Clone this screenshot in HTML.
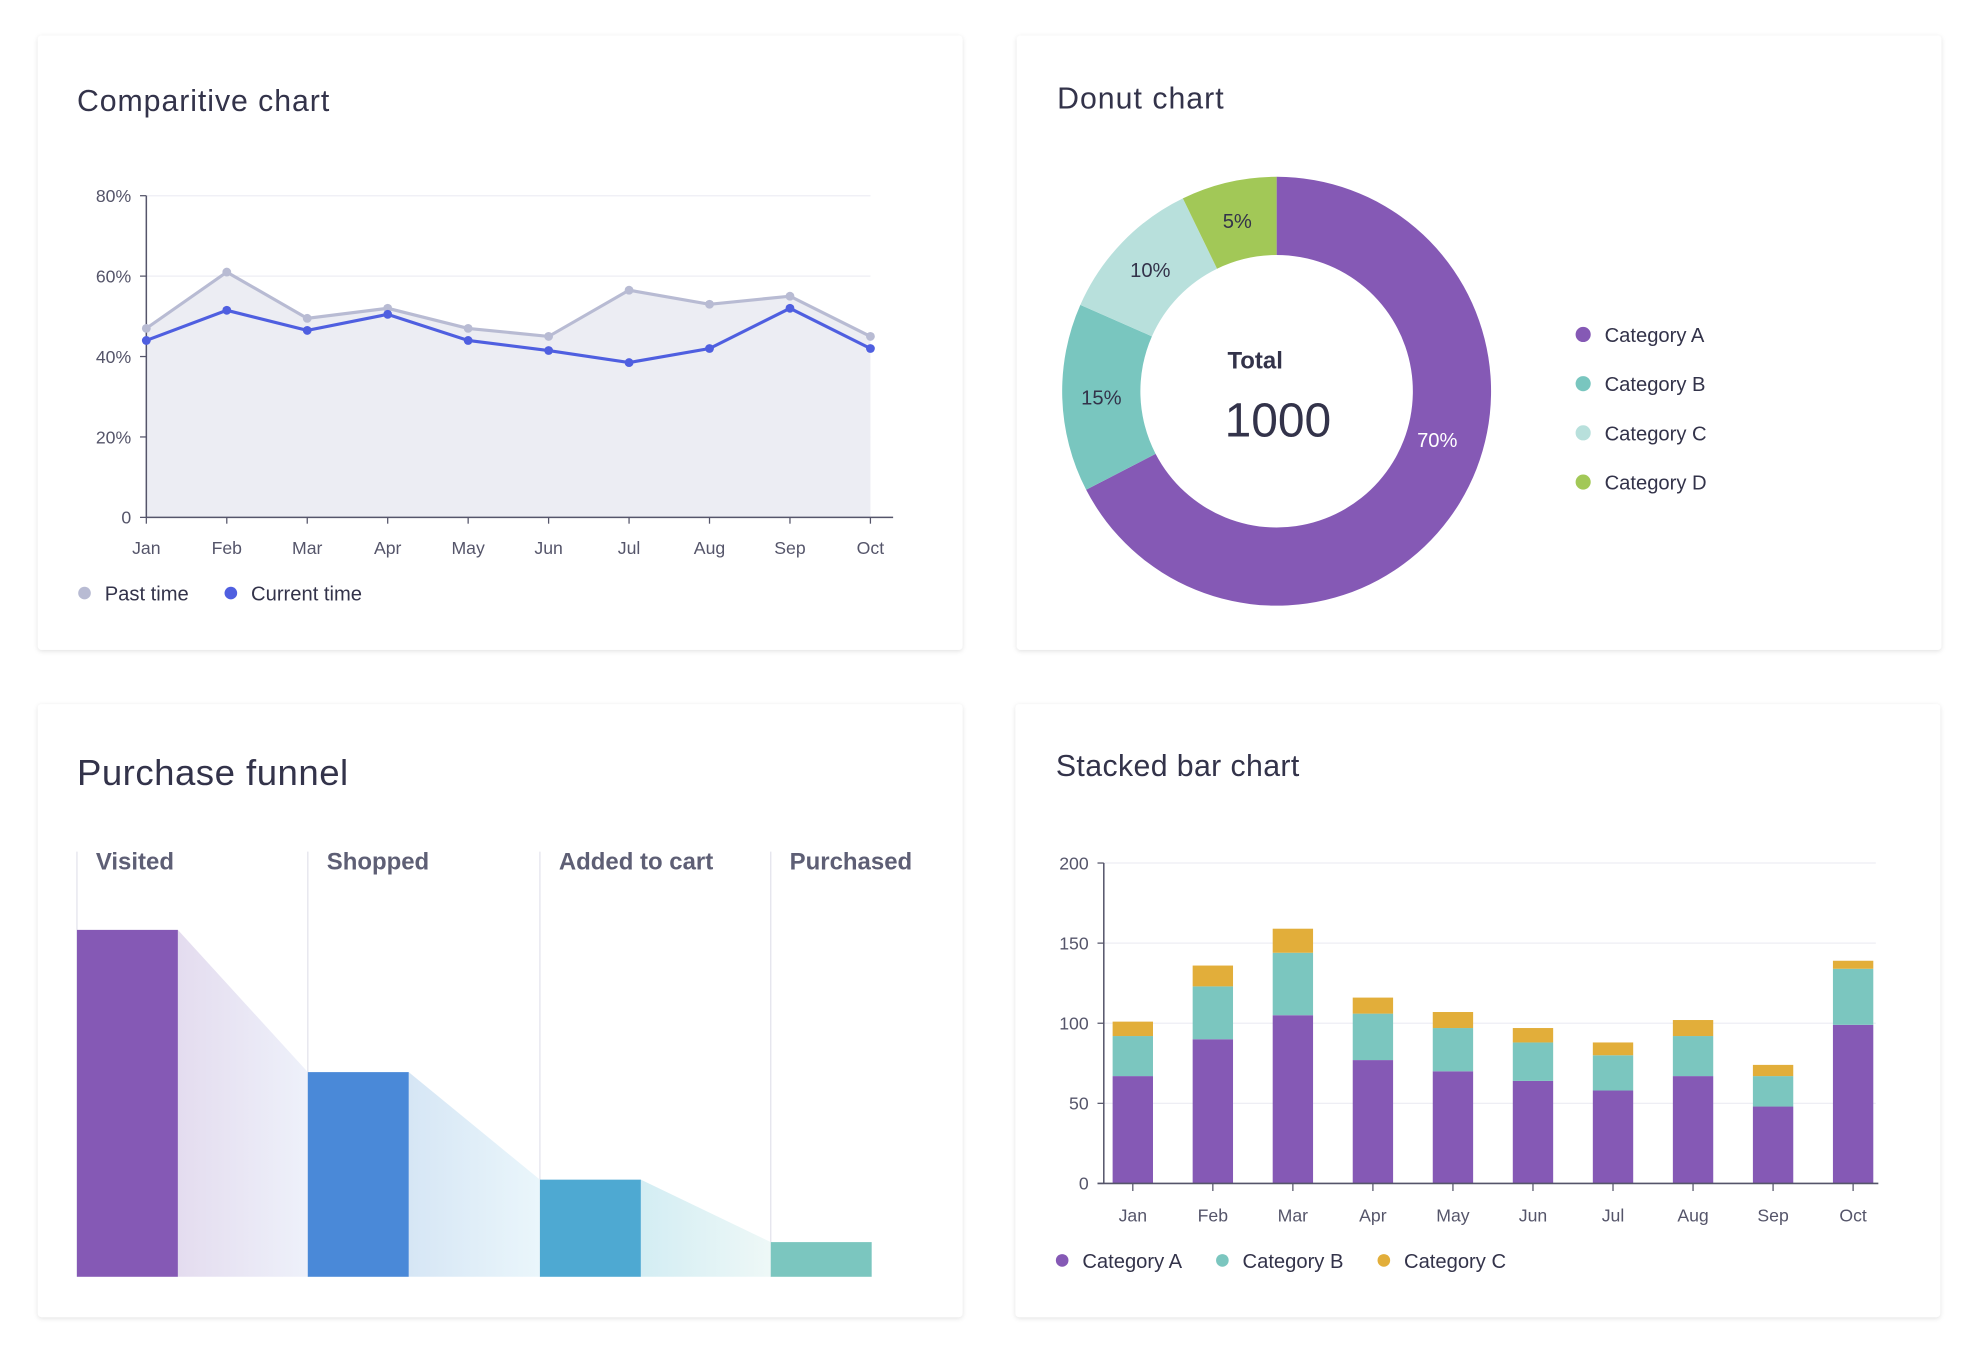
<!DOCTYPE html>
<html><head><meta charset="utf-8"><style>
html,body{margin:0;padding:0;background:#fff;}
svg{display:block;font-family:"Liberation Sans",sans-serif;}
</style></head><body>
<svg id="s" width="1978" height="1364" viewBox="0 0 1568 1081" xmlns="http://www.w3.org/2000/svg">
<defs>
<filter id="sh" x="-5%" y="-5%" width="110%" height="110%"><feDropShadow dx="0" dy="1" stdDeviation="2" flood-color="#000" flood-opacity="0.12"/></filter>
<linearGradient id="g0" x1="0" x2="1"><stop offset="0" stop-color="#e4dcef"/><stop offset="1" stop-color="#eef1fa"/></linearGradient>
<linearGradient id="g1" x1="0" x2="1"><stop offset="0" stop-color="#d6e6f5"/><stop offset="1" stop-color="#eaf6fb"/></linearGradient>
<linearGradient id="g2" x1="0" x2="1"><stop offset="0" stop-color="#d3edf3"/><stop offset="1" stop-color="#eef8f7"/></linearGradient>
</defs>
<rect x="30" y="28" width="733" height="487" rx="3" fill="#fff" filter="url(#sh)"/>
<rect x="806" y="28" width="733" height="487" rx="3" fill="#fff" filter="url(#sh)"/>
<rect x="30" y="558" width="733" height="486" rx="3" fill="#fff" filter="url(#sh)"/>
<rect x="805" y="558" width="733" height="486" rx="3" fill="#fff" filter="url(#sh)"/>
<text x="61" y="88" font-size="24" fill="#33334a" textLength="200">Comparitive chart</text>
<text x="838" y="86" font-size="24" fill="#33334a" textLength="132">Donut chart</text>
<text x="61" y="622" font-size="29" fill="#33334a" textLength="215">Purchase funnel</text>
<text x="837" y="615" font-size="24" fill="#33334a" textLength="193">Stacked bar chart</text>
<g id="line"></g><g id="donut"></g><g id="funnel"></g><g id="stack"></g>
</svg>
<script>
const NS="http://www.w3.org/2000/svg";
function mk(parent,tag,attrs,txt){const e=document.createElementNS(NS,tag);for(const k in attrs)e.setAttribute(k,attrs[k]);if(txt!==undefined)e.textContent=txt;parent.appendChild(e);return e;}

// ---- Line chart data ----
const lineMonths=["Jan","Feb","Mar","Apr","May","Jun","Jul","Aug","Sep","Oct"];
const pastValues=[47,61,49.5,52,47,45,56.5,53,55,45];
const currentValues=[44,51.5,46.5,50.5,44,41.5,38.5,42,52,42];
const lineTicks=[0,20,40,60,80];
const lineTickLabels=["0","20%","40%","60%","80%"];

// ---- Donut data ----
const donutCats=["Category A","Category B","Category C","Category D"];
const donutValues=[67.4,14.2,11.2,7.2];
const donutLabels=["70%","15%","10%","5%"];
const donutColors=["#8559b5","#79c6bf","#b8e0dc","#a2c857"];

// ---- Funnel data ----
const funnelStages=["Visited","Shopped","Added to cart","Purchased"];
const funnelValues=[100,59,28,10];
const funnelColors=["#8559b5","#4a89d8","#4ea9d2","#7bc6bf"];

// ---- Stacked data ----
const stackMonths=["Jan","Feb","Mar","Apr","May","Jun","Jul","Aug","Sep","Oct"];
const stackA=[67,90,105,77,70,64,58,67,48,99];
const stackB=[25,33,39,29,27,24,22,25,19,35];
const stackC=[9,13,15,10,10,9,8,10,7,5];
const stackTicks=[0,50,100,150,200];

// Line chart
(function(){
 const g=document.getElementById('line');
 const x0=116,x1=690,y0=410,y1=155;
 const X=i=>x0+i*(x1-x0)/(lineMonths.length-1);
 const Y=v=>y0-(v/80)*(y0-y1);
 lineTicks.forEach((t,i)=>{
  let l=mk(g,'line',{x1:x0,x2:x1,y1:Y(t),y2:Y(t),stroke:'#eeeef4','stroke-width':1});
  
  mk(g,'line',{x1:x0-5,x2:x0,y1:Y(t),y2:Y(t),stroke:'#55556a'});
  let tx=mk(g,'text',{x:x0-12,y:Y(t)+5,'text-anchor':'end','font-size':14,fill:'#55556a'},lineTickLabels[i]);
  
 });
 let area='M'+X(0)+','+y0;pastValues.forEach((v,i)=>area+=' L'+X(i)+','+Y(v));area+=' L'+X(pastValues.length-1)+','+y0+'Z';
 let a=mk(g,'path',{d:area,fill:'#ecedf3'});
 mk(g,'line',{x1:x0,x2:x0,y1:y1,y2:y0,stroke:'#55556a','stroke-width':1.2});
 mk(g,'line',{x1:x0,x2:708,y1:y0,y2:y0,stroke:'#55556a','stroke-width':1.2});
 lineMonths.forEach((m,i)=>{
  mk(g,'line',{x1:X(i),x2:X(i),y1:y0,y2:y0+5,stroke:'#55556a'});
  let t=mk(g,'text',{x:X(i),y:y0+29,'text-anchor':'middle','font-size':14,fill:'#55556a'},m);
  
 });
 [[pastValues,'#b8bbd3','past-time'],[currentValues,'#4f5fe0','current-time']].forEach(([vals,c,n])=>{
  let p=mk(g,'polyline',{points:vals.map((v,i)=>X(i)+','+Y(v)).join(' '),fill:'none',stroke:c,'stroke-width':2.5});
  
  vals.forEach((v,i)=>{let d=mk(g,'circle',{cx:X(i),cy:Y(v),r:3.5,fill:c});});
 });
 let le=mk(g,'g',{});
 mk(le,'circle',{cx:67,cy:470,r:5,fill:'#b8bbd3'});
 let t1=mk(le,'text',{x:83,y:476,'font-size':16,fill:'#33334a'},'Past time');
 mk(le,'circle',{cx:183,cy:470,r:5,fill:'#4f5fe0'});
 let t2=mk(le,'text',{x:199,y:476,'font-size':16,fill:'#33334a'},'Current time');
})();

// Donut
(function(){
 const g=document.getElementById('donut');
 const cx=1012,cy=310,R=170,r=108;
 const tot=donutValues.reduce((a,b)=>a+b,0);
 let ang=0;
 const P=(a,rad)=>[cx+rad*Math.sin(a),cy-rad*Math.cos(a)];
 donutValues.forEach((v,i)=>{
  const a0=ang,a1=ang+v/tot*2*Math.PI;ang=a1;
  const lg=(a1-a0)>Math.PI?1:0;
  const [ax,ay]=P(a0,R),[bx,by]=P(a1,R),[cx2,cy2]=P(a1,r),[dx,dy]=P(a0,r);
  let p=mk(g,'path',{d:`M${ax},${ay} A${R},${R} 0 ${lg} 1 ${bx},${by} L${cx2},${cy2} A${r},${r} 0 ${lg} 0 ${dx},${dy}Z`,fill:donutColors[i]});
  
  const mid=a0+(a1-a0)*(i===0?0.44:0.5);const rr=i===0?133:139;const [lx,ly]=P(mid,rr);
  let t=mk(g,'text',{x:lx,y:ly+6,'text-anchor':'middle','font-size':16,fill:i===0?'#fff':'#33334a'},donutLabels[i]);
  
 });
 let tt=mk(g,'text',{x:995,y:292,'text-anchor':'middle','font-size':19,'font-weight':'bold',fill:'#33334a'},'Total');
 let tv=mk(g,'text',{x:1013,y:346,'text-anchor':'middle','font-size':38,fill:'#33334a'},'1000');
 donutCats.forEach((c,i)=>{
  const y=265+i*39;
  mk(g,'circle',{cx:1255,cy:y,r:6,fill:donutColors[i]});
  let t=mk(g,'text',{x:1272,y:y+6,'font-size':16,fill:'#33334a'},c);
 });
})();

// Funnel
(function(){
 const g=document.getElementById('funnel');
 const xs=[61,244,428,611],bw=80,base=1012,H=275;
 const Y=v=>base-v/100*H;
 xs.forEach((x,i)=>{
  let l=mk(g,'line',{x1:x,x2:x,y1:675,y2:base,stroke:'#e3e3ec','stroke-width':1});
  let t=mk(g,'text',{x:x+15,y:689,'font-size':19,'font-weight':'bold',fill:'#5e5f75'},funnelStages[i]);
 });
 funnelValues.forEach((v,i)=>{
  if(i<funnelValues.length-1){
   let p=mk(g,'polygon',{points:`${xs[i]+bw},${Y(v)} ${xs[i+1]},${Y(funnelValues[i+1])} ${xs[i+1]},${base} ${xs[i]+bw},${base}`,fill:`url(#g${i})`});
   
  }
  let b=mk(g,'rect',{x:xs[i],y:Y(v),width:bw,height:base-Y(v),fill:funnelColors[i]});
  
 });
})();

// Stacked
(function(){
 const g=document.getElementById('stack');
 const x0=875,x1=1487,y0=938,y1=684;
 const Y=v=>y0-v/200*(y0-y1);
 const cxs=i=>898+i*(1469-898)/(stackMonths.length-1);
 stackTicks.forEach(t=>{
  let l=mk(g,'line',{x1:x0,x2:x1,y1:Y(t),y2:Y(t),stroke:'#eeeef4'});
  mk(g,'line',{x1:x0-5,x2:x0,y1:Y(t),y2:Y(t),stroke:'#55556a'});
  let tx=mk(g,'text',{x:x0-12,y:Y(t)+5,'text-anchor':'end','font-size':14,fill:'#55556a'},String(t));
 });
 const cols=['#8559b5','#7bc6bf','#e2ae3a'];
 stackMonths.forEach((m,i)=>{
  let base=0;
  [stackA[i],stackB[i],stackC[i]].forEach((v,k)=>{
   let r=mk(g,'rect',{x:cxs(i)-16,y:Y(base+v),width:32,height:Y(base)-Y(base+v),fill:cols[k]});
   
   base+=v;
  });
  mk(g,'line',{x1:cxs(i),x2:cxs(i),y1:y0,y2:y0+6,stroke:'#55556a'});
  let t=mk(g,'text',{x:cxs(i),y:y0+30,'text-anchor':'middle','font-size':14,fill:'#55556a'},m);
 });
 mk(g,'line',{x1:x0,x2:x0,y1:y1,y2:y0,stroke:'#55556a','stroke-width':1.2});
 mk(g,'line',{x1:x0-5,x2:1489,y1:y0,y2:y0,stroke:'#55556a','stroke-width':1.2});
 const lx=[842,969,1097],ln=['Category A','Category B','Category C'];
 ln.forEach((n,k)=>{
  mk(g,'circle',{cx:lx[k],cy:999,r:5,fill:cols[k]});
  let t=mk(g,'text',{x:lx[k]+16,y:1005,'font-size':16,fill:'#33334a'},n);
 });
})();
</script>
</body></html>
